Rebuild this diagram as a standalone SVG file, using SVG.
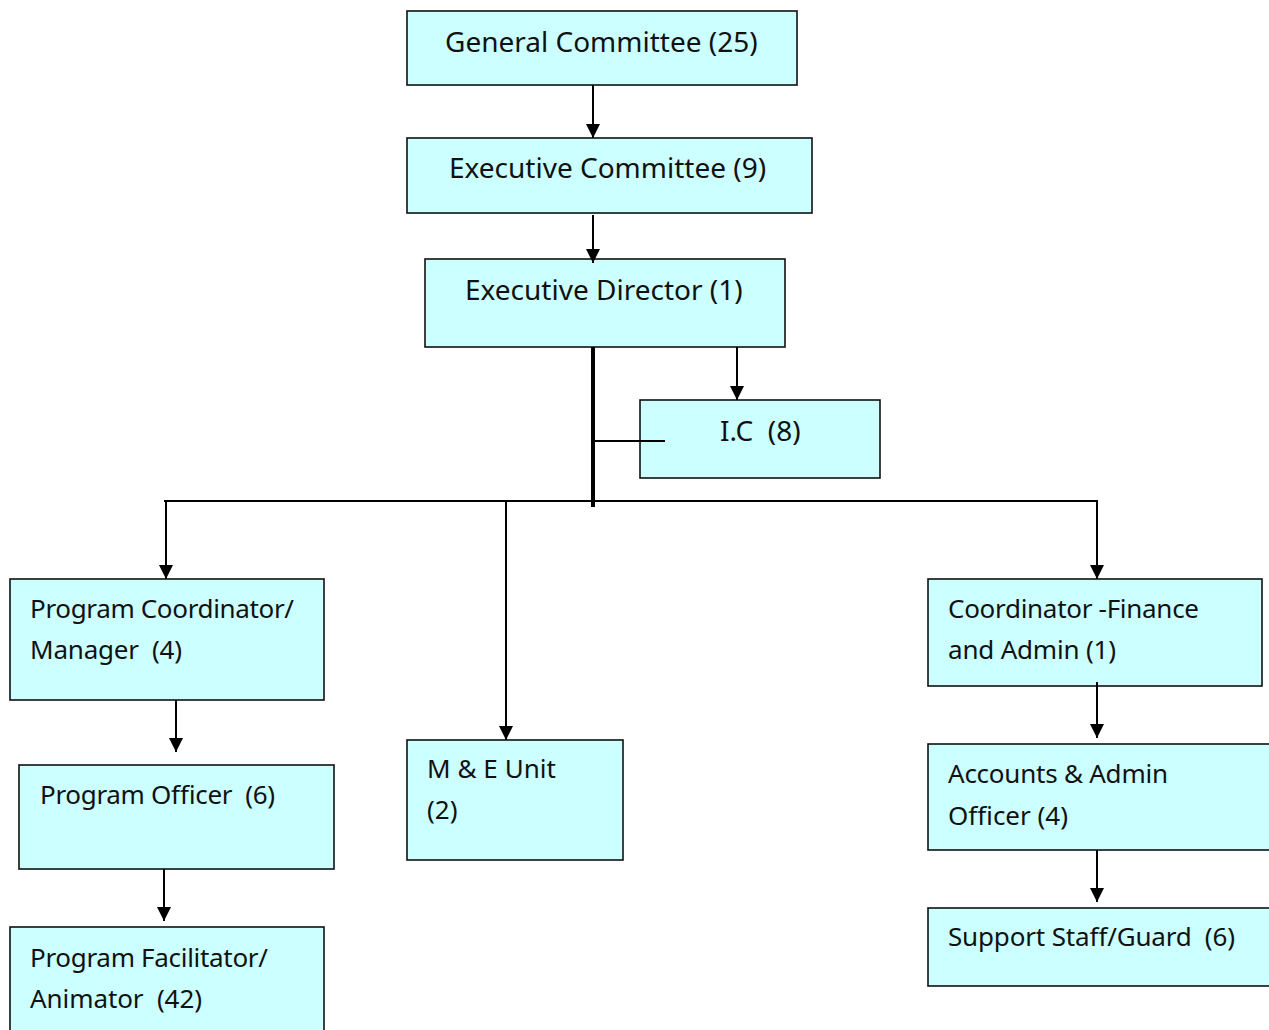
<svg xmlns="http://www.w3.org/2000/svg" width="1269" height="1030" viewBox="0 0 1269 1030" xml:space="preserve">
<style>
.box{fill:#CCFFFF;stroke:#111;stroke-width:1.6}
.t{font-family:"Noto Sans","Open Sans",sans-serif;font-size:28px;fill:#111;white-space:pre}
.s{font-size:26px}
.c{stroke:#000;stroke-width:2;fill:none}
.thick{stroke:#000;stroke-width:4;fill:none}
</style>
<defs>
<marker id="ah" markerUnits="userSpaceOnUse" markerWidth="16" markerHeight="16" viewBox="0 0 16 16" refX="15" refY="8" orient="auto">
<path d="M1,1 L15,8 L1,15 Z" fill="#000"/>
</marker>
</defs>
<rect width="1269" height="1030" fill="#fff"/>
<g id="general-committee">
<rect class="box" x="407" y="11" width="390" height="74"/>
<text class="t" x="445" y="52">General Committee (25)</text>
</g>
<g id="executive-committee">
<rect class="box" x="407" y="138" width="405" height="75"/>
<text class="t" x="449" y="178">Executive Committee (9)</text>
</g>
<g id="executive-director">
<rect class="box" x="425" y="259" width="360" height="88"/>
<text class="t" x="465" y="300">Executive Director (1)</text>
</g>
<g id="ic">
<rect class="box" x="640" y="400" width="240" height="78"/>
<text class="t" x="720" y="441">I.C  (8)</text>
</g>
<g id="program-coordinator">
<rect class="box" x="10" y="579" width="314" height="121"/>
<text class="t s" x="30" y="618" textLength="264">Program Coordinator/</text>
<text class="t s" x="30" y="659" textLength="152">Manager  (4)</text>
</g>
<g id="program-officer">
<rect class="box" x="19" y="765" width="315" height="104"/>
<text class="t s" x="40" y="804" textLength="235">Program Officer  (6)</text>
</g>
<g id="program-facilitator">
<rect class="box" x="10" y="927" width="314" height="112"/>
<text class="t s" x="30" y="967" textLength="238">Program Facilitator/</text>
<text class="t s" x="30" y="1008" textLength="172">Animator  (42)</text>
</g>
<g id="me-unit">
<rect class="box" x="407" y="740" width="216" height="120"/>
<text class="t s" x="427" y="778" textLength="129">M &amp; E Unit</text>
<text class="t s" x="427" y="819">(2)</text>
</g>
<g id="coordinator-finance">
<rect class="box" x="928" y="579" width="334" height="107"/>
<text class="t s" x="948" y="618" textLength="251">Coordinator -Finance</text>
<text class="t s" x="948" y="659" textLength="168">and Admin (1)</text>
</g>
<g id="accounts-admin">
<rect class="box" x="928" y="744" width="345" height="106"/>
<text class="t s" x="948" y="783" textLength="220">Accounts &amp; Admin</text>
<text class="t s" x="948" y="825" textLength="120">Officer (4)</text>
</g>
<g id="support-staff">
<rect class="box" x="928" y="908" width="345" height="78"/>
<text class="t s" x="948" y="946" textLength="287">Support Staff/Guard  (6)</text>
</g>
<g id="connectors">
<line class="c" x1="593" y1="85" x2="593" y2="138" marker-end="url(#ah)"/>
<line class="c" x1="593" y1="215" x2="593" y2="263" marker-end="url(#ah)"/>
<line class="thick" x1="593" y1="347" x2="593" y2="507"/>
<line class="c" x1="737" y1="347" x2="737" y2="400" marker-end="url(#ah)"/>
<line class="c" x1="593" y1="441" x2="665" y2="441"/>
<line class="c" x1="164" y1="501" x2="1098" y2="501"/>
<line class="c" x1="166" y1="501" x2="166" y2="579" marker-end="url(#ah)"/>
<line class="c" x1="506" y1="501" x2="506" y2="740" marker-end="url(#ah)"/>
<line class="c" x1="1097" y1="501" x2="1097" y2="579" marker-end="url(#ah)"/>
<line class="c" x1="176" y1="700" x2="176" y2="752" marker-end="url(#ah)"/>
<line class="c" x1="164" y1="869" x2="164" y2="921" marker-end="url(#ah)"/>
<line class="c" x1="1097" y1="682" x2="1097" y2="738" marker-end="url(#ah)"/>
<line class="c" x1="1097" y1="850" x2="1097" y2="902" marker-end="url(#ah)"/>
</g>
</svg>
